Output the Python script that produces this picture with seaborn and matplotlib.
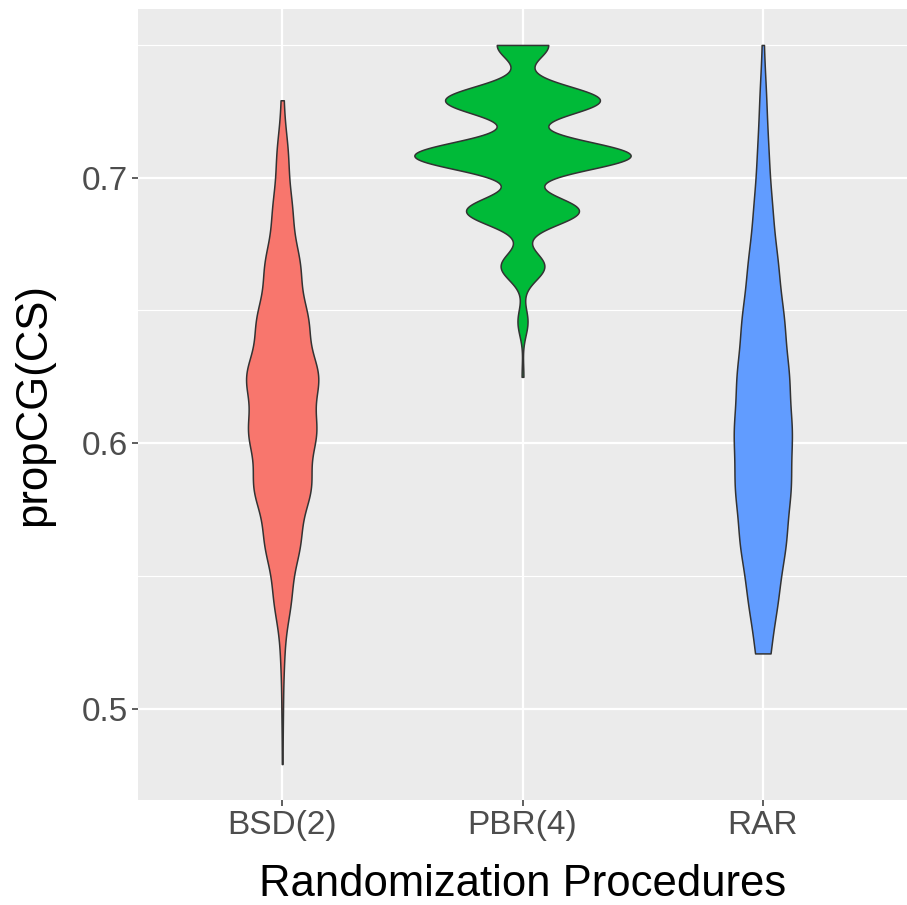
import numpy as np
import pandas as pd
import matplotlib
matplotlib.use('Agg')
import matplotlib.pyplot as plt
import seaborn as sns

# proportions are k / 48, counts (per 1000 runs)
denominator = 48
procedures = ['BSD(2)', 'PBR(4)', 'RAR']
colors = ['#F8766D', '#00BA38', '#619CFF']

bsd_k = list(range(23, 36))
bsd_counts = [2, 4, 10, 47, 94, 152, 178, 193, 136, 94, 52, 31, 7]

pbr_k = list(range(30, 37))
pbr_counts = [3, 17, 74, 191, 366, 262, 87]

rar_k = list(range(25, 37))
rar_counts = [41, 82, 125, 151, 157, 141, 115, 82, 51, 31, 19, 5]


def expand(name, ks, counts):
    vals = np.repeat(np.array(ks) / denominator, counts)
    return pd.DataFrame({'procedure': name, 'propCG': vals})


df = pd.concat([
    expand('BSD(2)', bsd_k, bsd_counts),
    expand('PBR(4)', pbr_k, pbr_counts),
    expand('RAR', rar_k, rar_counts),
], ignore_index=True)

plt.rcParams['font.family'] = ['Liberation Sans', 'DejaVu Sans']

fig = plt.figure(figsize=(9.07, 9.05), dpi=100)
ax = fig.add_axes([138 / 907, (905 - 800) / 905, (907 - 138) / 907, (800 - 9) / 905])
ax.set_facecolor('#EBEBEB')

sns.violinplot(data=df, x='procedure', y='propCG', hue='procedure', order=procedures,
               hue_order=procedures, palette=colors, inner=None, cut=0,
               bw_method=0.222, density_norm='area', common_norm=True, width=0.9,
               gridsize=300, linecolor='#333333', linewidth=1.1, saturation=1,
               legend=False, ax=ax)

lo, hi = df['propCG'].min(), df['propCG'].max()
pad = (hi - lo) * 0.05
ax.set_ylim(lo - pad, hi + pad)
ax.set_xlim(-0.6, 2.6)
ax.set_yticks([0.5, 0.6, 0.7])
ax.set_yticks([0.55, 0.65, 0.75], minor=True)
ax.set_yticklabels(['0.5', '0.6', '0.7'])

ax.set_axisbelow(True)
ax.grid(which='major', axis='both', color='white', linewidth=1.6)
ax.grid(which='minor', axis='y', color='white', linewidth=0.8)
for s in ax.spines.values():
    s.set_visible(False)

ax.tick_params(which='major', length=4, width=1.1, color='#333333',
               labelcolor='#4D4D4D', labelsize=24, pad=3)
ax.tick_params(which='minor', length=0)

ax.set_xlabel('Randomization Procedures', fontsize=31.4, color='black', labelpad=17)
ax.set_ylabel('propCG(CS)', fontsize=31.4, color='black', labelpad=20)

fig.savefig('out.png', dpi=100)
